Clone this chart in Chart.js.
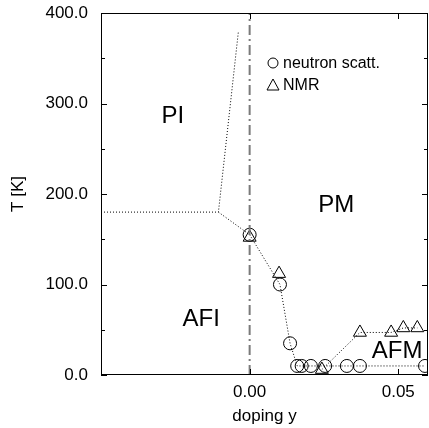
<!DOCTYPE html>
<html>
<head>
<meta charset="utf-8">
<script src="https://cdn.jsdelivr.net/npm/chart.js@4.4.1/dist/chart.umd.min.js"></script>
<style>
  html, body { margin: 0; padding: 0; background: #fff; }
  canvas { display: block; }
</style>
</head>
<body>
<canvas id="phase" width="429" height="428"></canvas>
<script>
// neutron scattering (circles)
const neutronDoping = [0, 0.0102, 0.0136, 0.0160, 0.0175, 0.0206, 0.0254, 0.0327, 0.0371, 0.0590];
const neutronT = [155, 100, 35, 10, 10, 10, 10, 10, 10, 10];
// NMR (triangles)
const nmrDoping = [0, 0.0099, 0.0243, 0.0371, 0.0476, 0.0517, 0.0564];
const nmrT = [152, 112, 6, 47, 47, 52, 52];
// phase boundary PI / AFI (dotted)
const boundDoping = [-0.05, -0.0105, -0.0038];
const boundT = [180, 180, 379];
const boundLowDoping = [-0.0105, 0];
const boundLowT = [180, 155];
// y = 0 guide
const guideDoping = [0, 0];
const guideT = [0, 400];
// tick labels
const xTicks = [0, 0.05];
const yMin = 0, yMax = 400, yStep = 50;
// phase names
const phaseNames = ["PI", "PM", "AFI", "AFM"];
const phaseDoping = [-0.0258, 0.0291, -0.0163, 0.0496];
const phaseT = [286, 187, 61, 26];
// legend
const legendNames = ["neutron scatt.", "NMR"];

const pts = (xs, ys) => xs.map((x, i) => ({ x: x, y: ys[i] }));
const FONT = "'Liberation Sans', Arial, Helvetica, sans-serif";

Chart.defaults.font.family = FONT;
Chart.defaults.color = "#000";

const dotted = [1, 2];

const frame = {
  id: "frame",
  afterDraw(chart) {
    const { ctx, chartArea: a, scales } = chart;
    const xs = scales.x, ys = scales.y;
    ctx.save();
    ctx.strokeStyle = "#000";
    ctx.lineWidth = 1;
    ctx.strokeRect(a.left + 0.5, a.top + 0.5, a.right - a.left - 1, a.bottom - a.top - 1);
    // inward ticks
    ctx.beginPath();
    ys.ticks.forEach((t) => {
      const y = Math.round(ys.getPixelForValue(t.value)) + 0.5;
      const len = t.value % 100 === 0 ? 6 : 4;
      ctx.moveTo(a.left, y); ctx.lineTo(a.left + len, y);
      ctx.moveTo(a.right, y); ctx.lineTo(a.right - len, y);
    });
    xTicks.forEach((v) => {
      const x = Math.round(xs.getPixelForValue(v)) + 0.5;
      ctx.moveTo(x, a.bottom); ctx.lineTo(x, a.bottom - 6);
      ctx.moveTo(x, a.top); ctx.lineTo(x, a.top + 6);
    });
    ctx.stroke();

    // phase names
    ctx.fillStyle = "#000";
    ctx.font = "24px " + FONT;
    ctx.textAlign = "center";
    ctx.textBaseline = "middle";
    phaseNames.forEach((n, i) => {
      ctx.fillText(n, xs.getPixelForValue(phaseDoping[i]), ys.getPixelForValue(phaseT[i]));
    });

    // legend
    ctx.font = "16px " + FONT;
    ctx.textAlign = "left";
    const lx = 273, ly = [63, 85];
    ctx.lineWidth = 1;
    ctx.beginPath();
    ctx.arc(lx, ly[0], 5, 0, Math.PI * 2);
    ctx.stroke();
    ctx.beginPath();
    ctx.moveTo(lx, ly[1] - 6);
    ctx.lineTo(lx + 6, ly[1] + 5);
    ctx.lineTo(lx - 6, ly[1] + 5);
    ctx.closePath();
    ctx.stroke();
    ctx.fillText(legendNames[0], lx + 10, ly[0] + 1);
    ctx.fillText(legendNames[1], lx + 10, ly[1] + 1);
    ctx.restore();
  },
};

new Chart(document.getElementById("phase"), {
  type: "scatter",
  data: {
    datasets: [
      {
        data: pts(guideDoping, guideT),
        showLine: true,
        borderColor: "#7a7a7a",
        borderWidth: 2,
        borderDash: [10, 4, 2, 4],
        pointRadius: 0,
      },
      {
        data: pts(boundDoping, boundT),
        showLine: true,
        borderColor: "#000",
        borderWidth: 1,
        borderDash: dotted,
        pointRadius: 0,
      },
      {
        data: pts(boundLowDoping, boundLowT),
        showLine: true,
        borderColor: "#000",
        borderWidth: 1,
        borderDash: dotted,
        pointRadius: 0,
      },
      {
        label: legendNames[0],
        data: pts(neutronDoping, neutronT),
        showLine: true,
        borderColor: "#000",
        borderWidth: 1,
        borderDash: dotted,
        pointStyle: "circle",
        pointRadius: 6.5,
        pointBorderWidth: 1,
        pointBorderColor: "#000",
        pointBackgroundColor: "rgba(0,0,0,0)",
      },
      {
        label: legendNames[1],
        data: pts(nmrDoping, nmrT),
        showLine: true,
        borderColor: "#000",
        borderWidth: 1,
        borderDash: dotted,
        segment: {
          borderColor: (c) => (c.p1DataIndex <= 2 ? "rgba(0,0,0,0)" : "#000"),
        },
        pointStyle: "triangle",
        pointRadius: 7.5,
        pointBorderWidth: 1,
        pointBorderColor: "#000",
        pointBackgroundColor: "rgba(0,0,0,0)",
      },
    ],
  },
  options: {
    responsive: false,
    animation: false,
    layout: { autoPadding: false, padding: { top: 13, right: 1, left: 0, bottom: 0 } },
    plugins: { legend: { display: false }, tooltip: { enabled: false } },
    scales: {
      x: {
        type: "linear",
        min: -0.05,
        max: 0.06,
        grid: { display: false, drawTicks: false },
        border: { display: false },
        afterBuildTicks: (s) => { s.ticks = xTicks.map((v) => ({ value: v })); },
        afterFit: (s) => { s.height = 53; s.paddingLeft = 0; s.paddingRight = 0; },
        ticks: {
          padding: 7,
          maxRotation: 0,
          font: { size: 17 },
          callback: (v) => Number(v).toFixed(2),
        },
        title: {
          display: true,
          text: "doping y",
          font: { size: 17 },
          padding: { top: 0, bottom: 1 },
        },
      },
      y: {
        min: yMin,
        max: yMax,
        grid: { display: false, drawTicks: false },
        border: { display: false },
        afterFit: (s) => { s.width = 101; s.paddingTop = 0; s.paddingBottom = 0; },
        ticks: {
          stepSize: yStep,
          padding: 13,
          font: { size: 17 },
          callback: (v) => (v % 100 === 0 ? Number(v).toFixed(1) : ""),
        },
        title: {
          display: true,
          text: "T [K]",
          font: { size: 17 },
          padding: { top: 8, bottom: 0 },
        },
      },
    },
  },
  plugins: [frame],
});
</script>
</body>
</html>
